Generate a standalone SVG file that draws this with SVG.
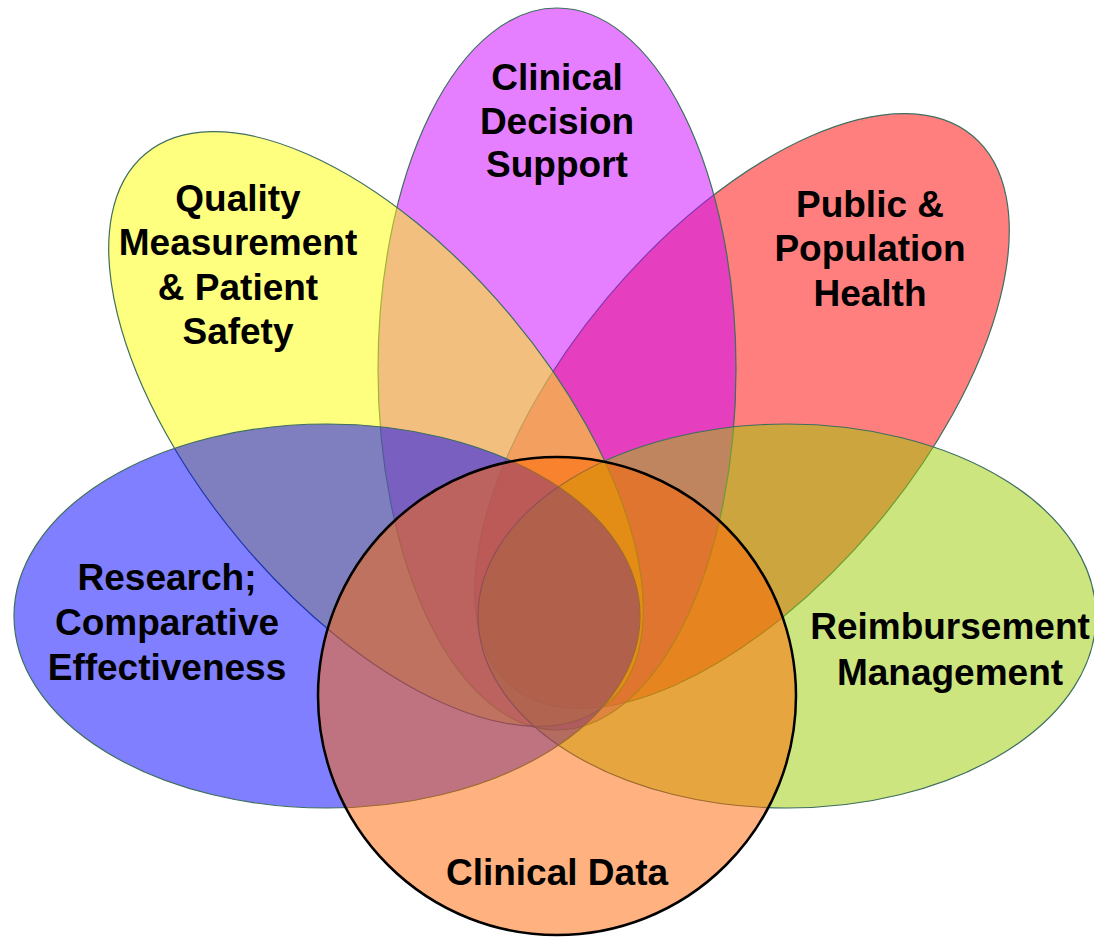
<svg xmlns="http://www.w3.org/2000/svg" width="1094" height="937" viewBox="0 0 1094 937">
<style>
.petal{stroke:#3E6E5E;stroke-width:1.2;fill-opacity:0.5}
.lbl{font-family:"Liberation Sans",Arial,sans-serif;font-weight:bold;font-size:37px;fill:#000;text-anchor:middle}
</style>
<rect width="1094" height="937" fill="#fff"/>
<g id="public-population-health">
<ellipse class="petal" cx="0" cy="0" rx="359" ry="176" fill="#FF0000" transform="translate(742,411) rotate(-50)"/>
<text class="lbl"><tspan x="870" y="217">Public &amp;</tspan><tspan x="870" y="261">Population</tspan><tspan x="870" y="306">Health</tspan></text>
</g>
<g id="clinical-decision-support">
<ellipse class="petal" cx="557" cy="369" rx="179" ry="361" fill="#CC00FF"/>
<text class="lbl"><tspan x="557" y="90">Clinical</tspan><tspan x="557" y="134">Decision</tspan><tspan x="557" y="177">Support</tspan></text>
</g>
<g id="quality-measurement">
<ellipse class="petal" cx="0" cy="0" rx="359" ry="176" fill="#FFFF00" transform="translate(376,429) rotate(50)"/>
<text class="lbl"><tspan x="238" y="211">Quality</tspan><tspan x="238" y="255">Measurement</tspan><tspan x="238" y="300">&amp; Patient</tspan><tspan x="238" y="344">Safety</tspan></text>
</g>
<g id="reimbursement-management">
<ellipse class="petal" cx="787" cy="616" rx="309" ry="192" fill="#99CC00"/>
<text class="lbl"><tspan x="950" y="639">Reimbursement</tspan><tspan x="950" y="685">Management</tspan></text>
</g>
<g id="research">
<ellipse class="petal" cx="327" cy="616" rx="313" ry="192" fill="#0000FF"/>
<text class="lbl"><tspan x="167" y="590">Research;</tspan><tspan x="167" y="635">Comparative</tspan><tspan x="167" y="680">Effectiveness</tspan></text>
</g>
<g id="clinical-data">
<circle cx="557" cy="696" r="239" fill="#FF6600" fill-opacity="0.5" stroke="#000" stroke-width="2.5"/>
<text class="lbl" x="557" y="885">Clinical Data</text>
</g>
<g id="connectors"></g>
</svg>
